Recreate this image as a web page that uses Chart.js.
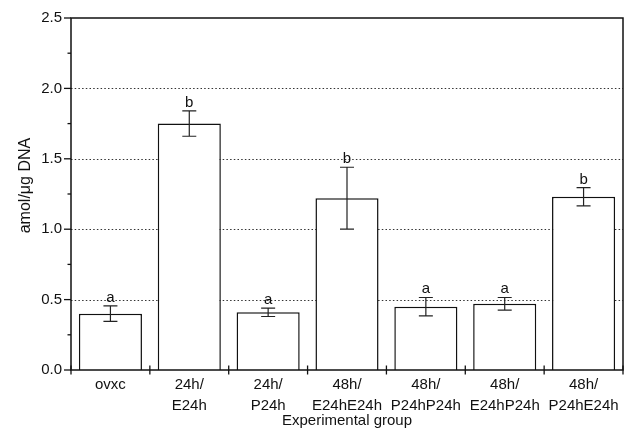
<!DOCTYPE html>
<html>
<head>
<meta charset="utf-8">
<script src="https://cdn.jsdelivr.net/npm/chart.js@4/dist/chart.umd.min.js"></script>
<style>
  html, body { margin: 0; padding: 0; background: #fff; }
  #wrap { width: 626px; height: 429px; }
</style>
</head>
<body>
<div id="wrap"><canvas id="c" width="626" height="429"></canvas></div>
<script>
// Experimental groups (two-line axis labels)
const groups = [
  ['ovxc'],
  ['24h/', 'E24h'],
  ['24h/', 'P24h'],
  ['48h/', 'E24hE24h'],
  ['48h/', 'P24hP24h'],
  ['48h/', 'E24hP24h'],
  ['48h/', 'P24hE24h']
];
// Mean values (amol/µg DNA) and their error half-widths
const means = [0.40, 1.75, 0.41, 1.22, 0.45, 0.47, 1.23];
const errors = [0.055, 0.09, 0.03, 0.22, 0.065, 0.045, 0.065];
// Significance letters above each bar
const letters = ['a', 'b', 'a', 'b', 'a', 'a', 'b'];
// Y axis: labelled ticks and dotted reference lines
const yMajor = [0, 0.5, 1.0, 1.5, 2.0, 2.5];
const yMinor = [0.25, 0.75, 1.25, 1.75, 2.25];
const yGrid = [0.5, 1.0, 1.5, 2.0];
const yTitle = 'amol/μg DNA';

const FONT = "'Liberation Sans', Arial, Helvetica, sans-serif";
const INK = '#111';

const framePlugin = {
  id: 'frame',
  beforeDatasetsDraw(chart) {
    const { ctx, chartArea: a, scales: { y } } = chart;
    ctx.save();
    ctx.strokeStyle = '#333';
    ctx.lineWidth = 1;
    ctx.setLineDash([1.5, 2.2]);
    yGrid.forEach(v => {
      const py = Math.round(y.getPixelForValue(v)) + 0.5;
      ctx.beginPath();
      ctx.moveTo(a.left, py);
      ctx.lineTo(a.right, py);
      ctx.stroke();
    });
    ctx.restore();
  },
  afterDatasetsDraw(chart) {
    const { ctx, chartArea: a, scales: { x, y } } = chart;
    const meta = chart.getDatasetMeta(0);
    ctx.save();

    // error bars with caps
    ctx.strokeStyle = '#222';
    ctx.lineWidth = 1.2;
    meta.data.forEach((bar, i) => {
      const cx = bar.x;
      const top = y.getPixelForValue(means[i] + errors[i]);
      const bot = y.getPixelForValue(means[i] - errors[i]);
      ctx.beginPath();
      ctx.moveTo(cx, top); ctx.lineTo(cx, bot);
      ctx.moveTo(cx - 7, top); ctx.lineTo(cx + 7, top);
      ctx.moveTo(cx - 7, bot); ctx.lineTo(cx + 7, bot);
      ctx.stroke();
    });

    // significance letters
    ctx.fillStyle = INK;
    ctx.font = '15px ' + FONT;
    ctx.textAlign = 'center';
    ctx.textBaseline = 'alphabetic';
    meta.data.forEach((bar, i) => {
      const top = y.getPixelForValue(means[i] + errors[i]);
      ctx.fillText(letters[i], bar.x, top - 4);
    });

    // plot frame
    ctx.strokeStyle = INK;
    ctx.lineWidth = 1.5;
    ctx.strokeRect(a.left, a.top, a.right - a.left, a.bottom - a.top);

    // y ticks: long at labelled values, short in between
    ctx.lineWidth = 1.3;
    yMajor.forEach(v => {
      const py = y.getPixelForValue(v);
      ctx.beginPath(); ctx.moveTo(a.left - 7, py); ctx.lineTo(a.left, py); ctx.stroke();
    });
    yMinor.forEach(v => {
      const py = y.getPixelForValue(v);
      ctx.beginPath(); ctx.moveTo(a.left - 3.5, py); ctx.lineTo(a.left, py); ctx.stroke();
    });

    // x ticks at group boundaries, crossing the axis
    const n = groups.length;
    for (let k = 0; k <= n; k++) {
      const px = k === 0 ? a.left : k === n ? a.right
        : (x.getPixelForValue(k - 1) + x.getPixelForValue(k)) / 2;
      ctx.beginPath(); ctx.moveTo(px, a.bottom - 4.5); ctx.lineTo(px, a.bottom + 4.5); ctx.stroke();
    }

    // rotated y-axis title, set slightly above the plot's vertical centre
    ctx.translate(26, y.getPixelForValue(1.31));
    ctx.rotate(-Math.PI / 2);
    ctx.font = '16px ' + FONT;
    ctx.textAlign = 'center';
    ctx.textBaseline = 'middle';
    ctx.fillText(yTitle, 0, 0);
    ctx.restore();
  }
};

new Chart(document.getElementById('c'), {
  type: 'bar',
  data: {
    labels: groups,
    datasets: [{
      data: means,
      backgroundColor: '#fff',
      borderColor: INK,
      borderWidth: 1.5,
      borderSkipped: 'bottom',
      barPercentage: 0.8,
      categoryPercentage: 1.0
    }]
  },
  options: {
    responsive: false,
    devicePixelRatio: 1,
    animation: false,
    layout: { padding: { top: 17, right: 3, left: 0, bottom: 0 } },
    plugins: { legend: { display: false }, tooltip: { enabled: false } },
    scales: {
      x: {
        grid: { display: false },
        border: { display: false },
        ticks: {
          color: INK,
          font: { family: FONT, size: 15, lineHeight: 1.43 },
          padding: -4,
          maxRotation: 0,
          autoSkip: false
        },
        title: {
          display: true,
          text: 'Experimental group',
          color: INK,
          font: { family: FONT, size: 15 },
          padding: { top: 0, bottom: -1 }
        },
        afterFit(scale) { scale.height = 59; }
      },
      y: {
        min: 0,
        max: 2.5,
        grid: { display: false, drawTicks: false },
        border: { display: false },
        ticks: {
          stepSize: 0.5,
          color: INK,
          font: { family: FONT, size: 15 },
          padding: 9,
          callback: v => v.toFixed(1)
        },
        title: { display: false },
        afterFit(scale) { scale.width = 71; }
      }
    }
  },
  plugins: [framePlugin]
});
</script>
</body>
</html>
